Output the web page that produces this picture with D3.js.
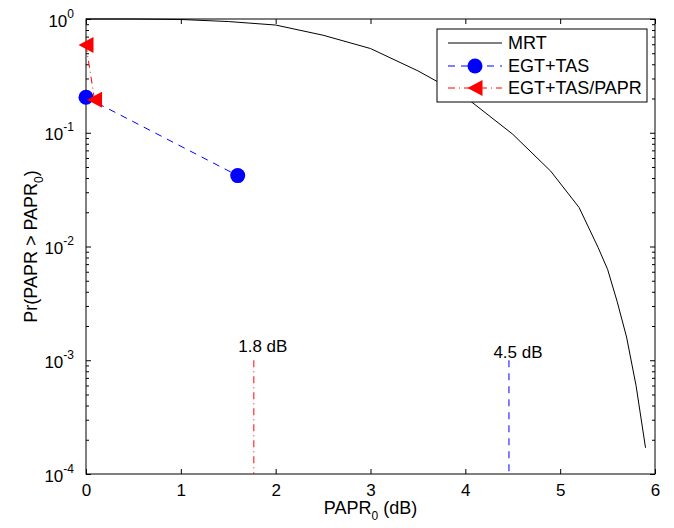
<!DOCTYPE html>
<html>
<head>
<meta charset="utf-8">
<script src="https://cdn.jsdelivr.net/npm/d3@7"></script>
<style>
  body { margin: 0; background: #fff; }
  text { font-family: "Liberation Sans", Arial, Helvetica, sans-serif; fill: #000; }
</style>
</head>
<body>
<div id="chart"></div>
<script>
// MRT curve
var mrtX = [0, 0.5, 1.0, 1.5, 2.0, 2.5, 3.0, 3.5, 4.0, 4.5, 4.9, 5.2, 5.4, 5.5, 5.6, 5.7, 5.8, 5.9];
var mrtY = [1.0, 1.0, 0.99, 0.95, 0.885, 0.72, 0.55, 0.35, 0.206, 0.097, 0.046, 0.022, 0.0098, 0.0063, 0.0033, 0.0016, 0.0006, 0.00017];

var egtX = [0, 1.6];
var egtY = [0.205, 0.042];

var paprX = [0, 0.09];
var paprY = [0.59, 0.195];

// threshold markers
var markX = [1.77, 4.46];
var markLabels = ["1.8 dB", "4.5 dB"];
var markColors = ["#ff0000", "#0000ff"];

var xTicks = [0, 1, 2, 3, 4, 5, 6];
var yMajor = [1e-4, 1e-3, 1e-2, 1e-1, 1];
var yExp = [-4, -3, -2, -1, 0];

var legendNames = ["MRT", "EGT+TAS", "EGT+TAS/PAPR"];

var margin = {top: 19, left: 86},
    width = 569,
    height = 455;

var fs = "17px", fsSmall = "12px";

var svg = d3.select("#chart").append("svg")
    .attr("width", 674)
    .attr("height", 528);

var g = svg.append("g")
    .attr("transform", "translate(" + margin.left + "," + margin.top + ")");

var x = d3.scaleLinear().domain([0, 6]).range([0, width]);
var y = d3.scaleLog().domain([1e-4, 1]).range([height, 0]);

// all log ticks (1..9 per decade)
var yAll = y.ticks();
function isMajor(v) {
    return yMajor.some(function(m) { return Math.abs(v / m - 1) < 1e-6; });
}

// x axis bottom
var xb = g.append("g")
    .attr("transform", "translate(0," + height + ")")
    .call(d3.axisBottom(x).tickValues(xTicks).tickSize(-5).tickSizeOuter(0).tickPadding(10).tickFormat(d3.format("d")));
// x axis top
var xt = g.append("g")
    .call(d3.axisTop(x).tickValues(xTicks).tickSize(-5).tickSizeOuter(0).tickFormat(""));

// y axis left
var yl = g.append("g")
    .call(d3.axisLeft(y).tickValues(yAll).tickSize(-5).tickSizeOuter(0).tickFormat(""));
// y axis right
var yr = g.append("g")
    .attr("transform", "translate(" + width + ",0)")
    .call(d3.axisRight(y).tickValues(yAll).tickSize(-5).tickSizeOuter(0).tickFormat(""));

[xb, xt, yl, yr].forEach(function(a) {
    a.select(".domain").remove();
    a.selectAll("line").attr("stroke", "#000").attr("stroke-width", 1);
    a.selectAll("text").style("font-size", fs).attr("font-family", null);
});

yl.selectAll(".tick line").attr("x2", function(d) { return isMajor(d) ? 5 : 3; });
yr.selectAll(".tick line").attr("x2", function(d) { return isMajor(d) ? -5 : -3; });

// power-of-ten labels on the left
var ylab = yl.selectAll(".tick").filter(function(d) { return isMajor(d); })
    .append("text")
    .attr("x", -12)
    .attr("y", 7)
    .attr("text-anchor", "end")
    .style("font-size", fs);
ylab.append("tspan").text("10");
ylab.append("tspan")
    .attr("dy", -9)
    .style("font-size", fsSmall)
    .text(function(d) { return yExp[yMajor.findIndex(function(m) { return Math.abs(d / m - 1) < 1e-6; })]; });

// frame
g.append("rect")
    .attr("width", width)
    .attr("height", height)
    .attr("fill", "none")
    .attr("stroke", "#000")
    .attr("stroke-width", 1);

var mrt = mrtX.map(function(v, i) { return [v, mrtY[i]]; });
var egt = egtX.map(function(v, i) { return [v, egtY[i]]; });
var papr = paprX.map(function(v, i) { return [v, paprY[i]]; });

var line = d3.line()
    .x(function(d) { return x(d[0]); })
    .y(function(d) { return y(d[1]); });

// MRT curve
g.append("path")
    .datum(mrt)
    .attr("d", line)
    .attr("fill", "none")
    .attr("stroke", "#000")
    .attr("stroke-width", 1);

// threshold lines
markX.forEach(function(v, i) {
    g.append("line")
        .attr("x1", x(v)).attr("x2", x(v))
        .attr("y1", y(1e-3)).attr("y2", y(1e-4))
        .attr("stroke", markColors[i])
        .attr("stroke-width", 1)
        .attr("stroke-dasharray", i == 0 ? "7,4,1,4" : "7,6");
});
g.append("text")
    .attr("x", x(markX[0]) + 9)
    .attr("y", y(1e-3) - 8)
    .attr("text-anchor", "middle")
    .style("font-size", fs)
    .text(markLabels[0]);
g.append("text")
    .attr("x", x(markX[1]) + 9)
    .attr("y", y(1e-3) - 2)
    .attr("text-anchor", "middle")
    .style("font-size", fs)
    .text(markLabels[1]);

// EGT+TAS
g.append("path")
    .datum(egt)
    .attr("d", line)
    .attr("fill", "none")
    .attr("stroke", "#0000ff")
    .attr("stroke-width", 1)
    .attr("stroke-dasharray", "7,6");
g.selectAll(".egt")
    .data(egt)
    .enter()
    .append("circle")
    .attr("class", "egt")
    .attr("cx", function(d) { return x(d[0]); })
    .attr("cy", function(d) { return y(d[1]); })
    .attr("r", 7.5)
    .attr("fill", "#0000ff");

// EGT+TAS/PAPR
var tri = "M-7.5,0L7.5,-8L7.5,8Z";
g.append("path")
    .datum(papr)
    .attr("d", line)
    .attr("fill", "none")
    .attr("stroke", "#ff0000")
    .attr("stroke-width", 1)
    .attr("stroke-dasharray", "7,4,1,4");
g.selectAll(".papr")
    .data(papr)
    .enter()
    .append("path")
    .attr("class", "papr")
    .attr("d", tri)
    .attr("transform", function(d) { return "translate(" + x(d[0]) + "," + y(d[1]) + ")"; })
    .attr("fill", "#ff0000");

// axis labels
var xlab = svg.append("text")
    .attr("x", margin.left + width / 2)
    .attr("y", 514)
    .attr("text-anchor", "middle")
    .style("font-size", "18px");
xlab.append("tspan").text("PAPR");
xlab.append("tspan").attr("dy", 6).style("font-size", fsSmall).text("0");
xlab.append("tspan").attr("dy", -6).text(" (dB)");

var ylab2 = svg.append("text")
    .attr("transform", "translate(37," + (margin.top + height / 2) + ") rotate(-90)")
    .attr("text-anchor", "middle")
    .style("font-size", "18px");
ylab2.append("tspan").text("Pr(PAPR > PAPR");
ylab2.append("tspan").attr("dy", 6).style("font-size", fsSmall).text("0");
ylab2.append("tspan").attr("dy", -6).text(")");

// legend
var leg = svg.append("g").attr("transform", "translate(437,29)");
leg.append("rect")
    .attr("width", 210)
    .attr("height", 73)
    .attr("fill", "#fff")
    .attr("stroke", "#000")
    .attr("stroke-width", 1);
var rows = [14, 37, 59];
var legColors = ["#000", "#0000ff", "#ff0000"];
var legDash = [null, "7,6", "7,4,1,4"];
legendNames.forEach(function(name, i) {
    leg.append("line")
        .attr("x1", 11).attr("x2", 65)
        .attr("y1", rows[i]).attr("y2", rows[i])
        .attr("stroke", legColors[i])
        .attr("stroke-width", 1)
        .attr("stroke-dasharray", legDash[i]);
    if (i == 1) {
        leg.append("circle").attr("cx", 38).attr("cy", rows[i]).attr("r", 7.5).attr("fill", "#0000ff");
    }
    if (i == 2) {
        leg.append("path").attr("d", tri).attr("transform", "translate(38," + rows[i] + ")").attr("fill", "#ff0000");
    }
    leg.append("text")
        .attr("x", 71)
        .attr("y", rows[i] + 6)
        .style("font-size", "18px")
        .text(name);
});
</script>
</body>
</html>
